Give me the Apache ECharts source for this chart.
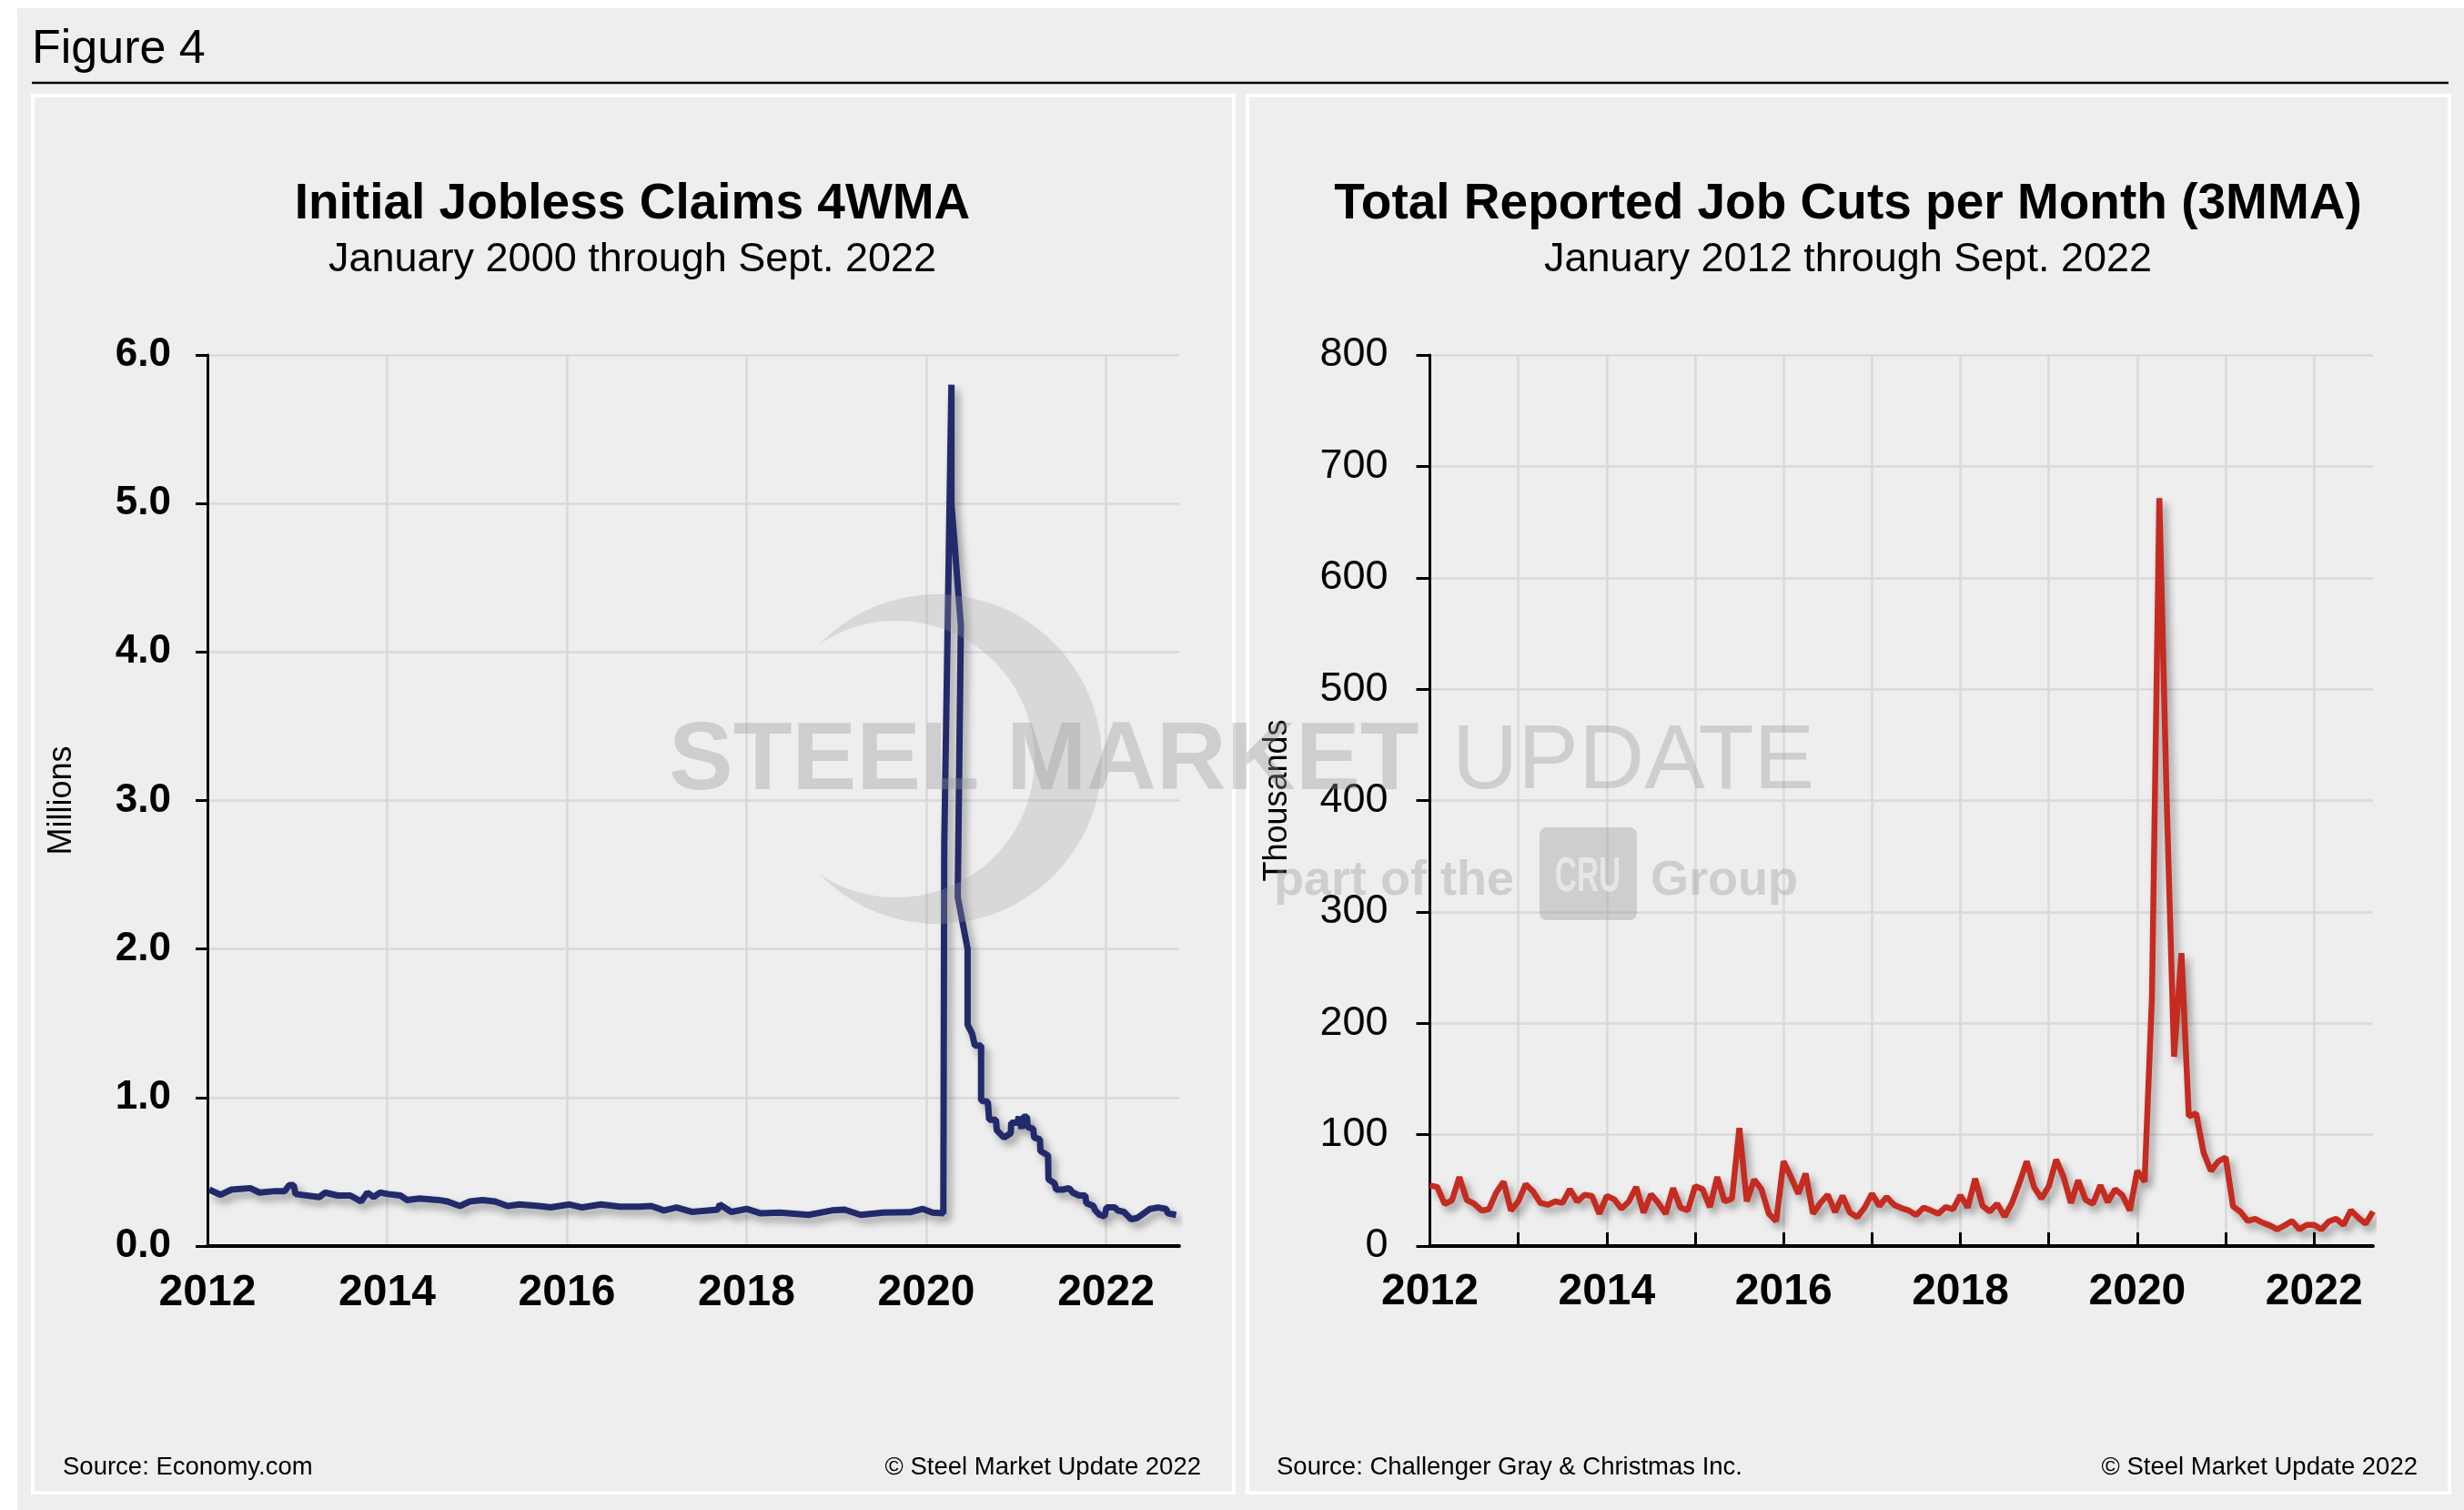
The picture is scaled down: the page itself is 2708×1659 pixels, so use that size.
<!DOCTYPE html>
<html>
<head>
<meta charset="utf-8">
<script src="https://cdn.jsdelivr.net/npm/echarts/dist/echarts.min.js"></script>
<style>
html,body{margin:0;padding:0;background:#fff;}
#c{width:2708px;height:1659px;}
</style>
</head>
<body>
<div id="c"></div>
<script>
// ---------- DATA ----------
// Initial jobless claims, 4-week moving average (millions), by decimal year
const claimsDates = [
  2012.02, 2012.146, 2012.267, 2012.476, 2012.58, 2012.755, 2012.86, 2012.91, 2012.96, 2012.98,
  2013.245, 2013.31, 2013.45, 2013.59, 2013.71, 2013.78, 2013.85, 2013.92, 2014.01, 2014.15,
  2014.22, 2014.36, 2014.57, 2014.67, 2014.81, 2014.92, 2015.06, 2015.20, 2015.34, 2015.47,
  2015.69, 2015.82, 2016.03, 2016.17, 2016.38, 2016.59, 2016.80, 2016.94, 2017.08, 2017.22,
  2017.39, 2017.68, 2017.70, 2017.83, 2018.00, 2018.16, 2018.37, 2018.69, 2018.95, 2019.09,
  2019.27, 2019.52, 2019.82, 2019.96, 2020.07, 2020.19, 2020.20, 2020.28, 2020.28, 2020.385,
  2020.35, 2020.46, 2020.46, 2020.51, 2020.54, 2020.61, 2020.61, 2020.685, 2020.70, 2020.775,
  2020.785, 2020.865, 2020.94, 2020.945, 2021.01, 2021.03, 2021.06, 2021.08, 2021.12, 2021.13,
  2021.19, 2021.20, 2021.265, 2021.27, 2021.355, 2021.36, 2021.43, 2021.445, 2021.52, 2021.59,
  2021.63, 2021.70, 2021.77, 2021.78, 2021.86, 2021.88, 2021.93, 2021.985, 2022.005, 2022.10,
  2022.13, 2022.20, 2022.28, 2022.35, 2022.42, 2022.49, 2022.58, 2022.67, 2022.69, 2022.78
];
const claimsMillions = [
  0.38, 0.345, 0.38, 0.39, 0.36, 0.37, 0.37, 0.41, 0.41, 0.35,
  0.33, 0.36, 0.34, 0.34, 0.30, 0.36, 0.33, 0.36, 0.35, 0.34,
  0.31, 0.32, 0.31, 0.30, 0.27, 0.30, 0.31, 0.30, 0.27, 0.28,
  0.27, 0.26, 0.28, 0.26, 0.28, 0.265, 0.265, 0.27, 0.24, 0.26,
  0.23, 0.245, 0.28, 0.23, 0.25, 0.22, 0.225, 0.21, 0.24, 0.245,
  0.21, 0.225, 0.228, 0.25, 0.225, 0.22, 2.70, 5.80, 5.00, 4.18,
  2.35, 2.00, 1.49, 1.43, 1.35, 1.35, 0.98, 0.97, 0.85, 0.85,
  0.78, 0.73, 0.76, 0.83, 0.83, 0.87, 0.79, 0.87, 0.87, 0.80,
  0.79, 0.73, 0.72, 0.64, 0.61, 0.45, 0.42, 0.38, 0.38, 0.39,
  0.36, 0.34, 0.34, 0.29, 0.27, 0.24, 0.21, 0.20, 0.26, 0.26,
  0.24, 0.23, 0.18, 0.19, 0.22, 0.25, 0.26, 0.25, 0.22, 0.21
];

// Total reported job cuts per month (thousands), Jan 2012 .. Sep 2022
const jobCuts = [
  54.5, 53, 37.8, 41, 62, 41.4, 38, 31.9, 33, 48, 57.7, 32,      // 2012
  40, 55.5, 49, 38.7, 37, 40, 38.7, 51, 40, 46, 45, 29,          // 2013
  45, 42, 33.5, 40, 53, 30, 46.5, 38.7, 29, 52, 34.6, 32,        // 2014
  53.7, 51, 35, 62, 40, 42.5, 106, 40, 59.6, 51, 29, 22.3,       // 2015
  76, 62, 47, 65, 29, 38.7, 46, 30.5, 45, 30, 25.9, 34.6,        // 2016
  47, 36, 44, 37, 34, 31.9, 27.8, 34.6, 32, 29, 35, 33,          // 2017
  45.5, 34.6, 60.5, 36, 31, 38, 26.4, 38.7, 56.4, 76, 53, 42.7,  // 2018
  53.6, 77.6, 62, 38.7, 59, 41.4, 38, 54.5, 39.5, 51, 45.5, 32,  // 2019
  67.5, 57.8, 224, 671.5, 400, 170, 263, 116.5, 119, 84, 67.5, 76, // 2020
  79.7, 35.7, 30.8, 22.5, 24.5, 21, 18.5, 15, 18.5, 22.5, 15, 19,  // 2021
  19, 15, 22, 24.5, 19, 32, 25.5, 20, 31                          // 2022 (Jan-Sep)
];
const cutMonths = [];
for (let y = 2012; y <= 2022; y++) {
  for (let m = 1; m <= 12; m++) {
    if (cutMonths.length < jobCuts.length) cutMonths.push(y + '-' + (m < 10 ? '0' + m : m));
  }
}

const leftTitle = 'Initial Jobless Claims 4WMA';
const leftSubtitle = 'January 2000 through Sept. 2022';
const rightTitle = 'Total Reported Job Cuts per Month (3MMA)';
const rightSubtitle = 'January 2012 through Sept. 2022';

// ---------- CHART ----------
const FF = '"Liberation Sans", Arial, Helvetica, sans-serif';
const chart = echarts.init(document.getElementById('c'), null, {renderer: 'canvas'});

function txt(text, x, y, font, align, color, extra) {
  const o = {
    type: 'text', silent: true, z: 10,
    style: {
      text: text, x: x, y: y, font: font, fill: color || '#000',
      align: align || 'left', verticalAlign: 'middle',
      textAlign: align || 'left', textVerticalAlign: 'middle'
    }
  };
  if (extra) Object.assign(o, extra);
  return o;
}

// crescent watermark shape (decoration)
function crescentPoints(cx1, r1, cx2, r2, cy) {
  const xi = (r1 * r1 - r2 * r2 + cx2 * cx2 - cx1 * cx1) / (2 * (cx2 - cx1));
  const a1 = Math.atan2(Math.sqrt(r1 * r1 - (xi - cx1) * (xi - cx1)), xi - cx1);
  const a2 = Math.atan2(Math.sqrt(r2 * r2 - (xi - cx2) * (xi - cx2)), xi - cx2);
  const pts = [];
  const N = 80;
  for (let i = 0; i <= N; i++) {
    const a = -a1 + (2 * a1) * i / N;
    pts.push([cx1 + r1 * Math.cos(a), cy + r1 * Math.sin(a)]);
  }
  for (let i = 0; i <= N; i++) {
    const a = a2 - (2 * a2) * i / N;
    pts.push([cx2 + r2 * Math.cos(a), cy + r2 * Math.sin(a)]);
  }
  return pts;
}

const WM = 'rgba(150,150,150,0.36)';
const WM2 = 'rgba(160,160,160,0.28)';

const gridLine = {show: true, lineStyle: {color: '#d9d9d9', width: 2.5}};

const option = {
  animation: false,
  backgroundColor: '#eeeeee',
  grid: [
    {left: 228, top: 390, width: 1068, height: 979},
    {left: 1571.5, top: 390, width: 1036.5, height: 979}
  ],
  xAxis: [
    {
      gridIndex: 0, type: 'value', min: 2012, max: 2022.815, interval: 2,
      axisLine: {show: true, onZero: false, lineStyle: {color: '#000', width: 4}},
      axisTick: {show: false},
      axisLabel: {
        formatter: function (v) { return (Math.abs(v - Math.round(v)) < 1e-6 && Math.round(v) % 2 === 0) ? String(Math.round(v)) : ''; },
        fontFamily: FF, fontSize: 48, fontWeight: 'bold', color: '#000', margin: 28
      },
      splitLine: {show: true, showMaxLine: false, lineStyle: {color: '#d9d9d9', width: 2.5}}
    },
    {
      gridIndex: 1, type: 'category', data: cutMonths, boundaryGap: false,
      axisLine: {show: true, onZero: false, lineStyle: {color: '#000', width: 4}},
      axisTick: {show: true, inside: true, length: 15, interval: function (i) { return i % 12 === 0; }, lineStyle: {color: '#000', width: 3}},
      axisLabel: {
        interval: function (i) { return i % 24 === 0; },
        formatter: function (v) { return v.slice(0, 4); },
        fontFamily: FF, fontSize: 48, fontWeight: 'bold', color: '#000', margin: 27
      },
      splitLine: {show: true, interval: function (i) { return i % 12 === 0; }, lineStyle: {color: '#d9d9d9', width: 2.5}}
    }
  ],
  yAxis: [
    {
      gridIndex: 0, type: 'value', min: 0, max: 6, interval: 1,
      name: 'Millions', nameLocation: 'middle', nameGap: 142, nameRotate: 90,
      nameTextStyle: {fontFamily: FF, fontSize: 36, color: '#000'},
      axisLine: {show: true, lineStyle: {color: '#000', width: 3}},
      axisTick: {show: true, length: 13, lineStyle: {color: '#000', width: 3}},
      axisLabel: {formatter: function (v) { return v.toFixed(1); }, fontFamily: FF, fontSize: 44, fontWeight: 'bold', color: '#000', margin: 40, padding: [7, 0, 0, 0]},
      splitLine: gridLine
    },
    {
      gridIndex: 1, type: 'value', min: 0, max: 800, interval: 100,
      name: 'Thousands', nameLocation: 'middle', nameGap: 149, nameRotate: 90,
      nameTextStyle: {fontFamily: FF, fontSize: 36, color: '#000'},
      axisLine: {show: true, lineStyle: {color: '#000', width: 3}},
      axisTick: {show: true, length: 15, lineStyle: {color: '#000', width: 3}},
      axisLabel: {fontFamily: FF, fontSize: 45, color: '#000', margin: 46, padding: [7, 0, 0, 0]},
      splitLine: gridLine
    }
  ],
  series: [
    {
      type: 'line', xAxisIndex: 0, yAxisIndex: 0,
      data: claimsDates.map(function (d, i) { return [d, claimsMillions[i]]; }),
      showSymbol: false, symbol: 'none',
      lineStyle: {color: '#222a6c', width: 7, shadowColor: 'rgba(0,0,0,0.35)', shadowBlur: 9, shadowOffsetX: 5, shadowOffsetY: 6},
      z: 3
    },
    {
      type: 'line', xAxisIndex: 1, yAxisIndex: 1,
      data: jobCuts,
      showSymbol: false, symbol: 'none',
      lineStyle: {color: '#c52b20', width: 6.5, shadowColor: 'rgba(0,0,0,0.35)', shadowBlur: 9, shadowOffsetX: 5, shadowOffsetY: 6},
      z: 3
    }
  ],
  graphic: {
    elements: [
      // page white margins
      {type: 'rect', silent: true, z: 1, shape: {x: 0, y: 0, width: 2708, height: 9}, style: {fill: '#ffffff'}},
      {type: 'rect', silent: true, z: 1, shape: {x: 0, y: 0, width: 19, height: 1659}, style: {fill: '#ffffff'}},
      // figure heading
      txt('Figure 4', 35, 55, '52px ' + FF, 'left'),
      {type: 'line', silent: true, z: 1, shape: {x1: 35, y1: 91, x2: 2691, y2: 91}, style: {stroke: '#000', lineWidth: 2.5}},
      // panel borders
      {type: 'rect', silent: true, z: 1, shape: {x: 36, y: 105, width: 1320, height: 1535}, style: {fill: null, stroke: '#ffffff', lineWidth: 4}},
      {type: 'rect', silent: true, z: 1, shape: {x: 1371, y: 105, width: 1321, height: 1535}, style: {fill: null, stroke: '#ffffff', lineWidth: 4}},
      // titles
      txt(leftTitle, 695, 225, 'bold 55px ' + FF, 'center'),
      txt(leftSubtitle, 695, 286, '45px ' + FF, 'center'),
      txt(rightTitle, 2031, 225, 'bold 55px ' + FF, 'center'),
      txt(rightSubtitle, 2031, 286, '45px ' + FF, 'center'),
      // footers
      txt('Source: Economy.com', 69, 1612, '27.5px ' + FF, 'left'),
      txt('\u00A9 Steel Market Update 2022', 1320, 1612, '27.5px ' + FF, 'right'),
      txt('Source: Challenger Gray & Christmas Inc.', 1403, 1612, '27.5px ' + FF, 'left'),
      txt('\u00A9 Steel Market Update 2022', 2657, 1612, '27.5px ' + FF, 'right'),
      // watermark
      {type: 'polygon', silent: true, z: 50, shape: {points: crescentPoints(1030, 181, 985, 152, 834)}, style: {fill: WM2}},
      txt('STEEL MARKET', 735, 838, 'bold 106px ' + FF, 'left', WM, {z: 51}),
      txt('UPDATE', 1596, 838, '100px ' + FF, 'left', WM, {z: 51}),
      txt('part of the', 1400, 968, 'bold 54px ' + FF, 'left', WM, {z: 51}),
      {type: 'rect', silent: true, z: 51, shape: {x: 1692, y: 909, width: 107, height: 102, r: 8}, style: {fill: WM}},
      txt('CRU', 1745, 964, 'bold 54px ' + FF, 'center', 'rgba(238,238,238,0.75)', {z: 52, scaleX: 0.62, originX: 1745, originY: 964}),
      txt('Group', 1814, 968, 'bold 54px ' + FF, 'left', WM, {z: 51})
    ]
  }
};
chart.setOption(option);
</script>
</body>
</html>
